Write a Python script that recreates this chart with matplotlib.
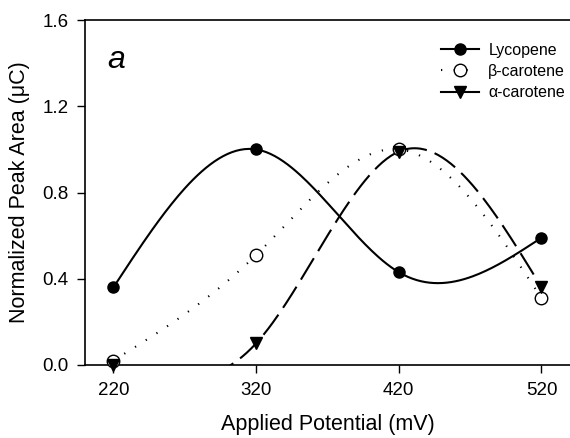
import numpy as np
import matplotlib
matplotlib.use('Agg')
import matplotlib.pyplot as plt

plt.rcParams['font.family'] = ['Liberation Sans', 'DejaVu Sans']

potential = [220, 320, 420, 520]
lycopene = [0.36, 1.00, 0.43, 0.59]
b_carotene = [0.02, 0.51, 1.00, 0.31]
a_carotene = [0.00, 0.10, 0.99, 0.36]


def natural_spline(x, y, n=200):
    # natural cubic spline through the measured points (smooth line only)
    x = np.asarray(x, float)
    y = np.asarray(y, float)
    k = len(x)
    h = np.diff(x)
    A = np.zeros((k, k))
    r = np.zeros(k)
    A[0, 0] = A[-1, -1] = 1
    for i in range(1, k - 1):
        A[i, i - 1] = h[i - 1]
        A[i, i] = 2 * (h[i - 1] + h[i])
        A[i, i + 1] = h[i]
        r[i] = 6 * ((y[i + 1] - y[i]) / h[i] - (y[i] - y[i - 1]) / h[i - 1])
    M = np.linalg.solve(A, r)
    xs = np.linspace(x[0], x[-1], n)
    ys = np.empty_like(xs)
    for j, t in enumerate(xs):
        i = min(np.searchsorted(x, t, side='right') - 1, k - 2)
        a = x[i + 1] - t
        b = t - x[i]
        ys[j] = (M[i] * a**3 + M[i + 1] * b**3) / (6 * h[i]) \
            + (y[i] / h[i] - M[i] * h[i] / 6) * a \
            + (y[i + 1] / h[i] - M[i + 1] * h[i] / 6) * b
    return xs, ys


fig = plt.figure(figsize=(5.7, 4.38), dpi=100)
ax = fig.add_axes([0.149, 0.167, 0.851, 0.787])

dots = (0, (0.6, 5.5))
dashes = (0, (12, 4))

xs, ys = natural_spline(potential, lycopene)
ax.plot(xs, ys, color='black', lw=1.5)
ax.plot(potential, lycopene, 'o', color='black', ms=8, clip_on=False,
        zorder=5)

xs, ys = natural_spline(potential, b_carotene)
ax.plot(xs, ys, color='black', lw=1.5, linestyle=dots)
ax.plot(potential, b_carotene, 'o', mfc='white', mec='black', ms=9,
        mew=1, clip_on=False, zorder=4)

xs, ys = natural_spline(potential, a_carotene)
ax.plot(xs, ys, color='black', lw=1.5, linestyle=dashes)
ax.plot(potential, a_carotene, 'v', color='black', ms=8, clip_on=False,
        zorder=6)

# legend proxies
h1, = ax.plot([], [], '-o', color='black', ms=8, lw=1.5)
h2, = ax.plot([], [], 'o', mfc='white', mec='black', ms=9, linestyle=dots,
              color='black', lw=1.5)
h3, = ax.plot([], [], '-v', color='black', ms=8, lw=1.5)
ax.legend([h1, h2, h3], ['Lycopene', '\u03b2-carotene', '\u03b1-carotene'],
          loc='upper right', bbox_to_anchor=(0.99, 0.935), frameon=False,
          fontsize=11.5, handlelength=2.4, borderaxespad=0, borderpad=0,
          labelspacing=0.4, handletextpad=0.55)

ax.set_xlim(200, 540)
ax.set_ylim(0, 1.6)
ax.set_xticks(potential)
ax.set_yticks([0.0, 0.4, 0.8, 1.2, 1.6])
ax.set_yticklabels(['0.0', '0.4', '0.8', '1.2', '1.6'])
ax.tick_params(direction='out', length=6, width=1, labelsize=13.5, pad=6)
ax.spines['right'].set_visible(False)
for s in ['left', 'bottom', 'top']:
    ax.spines[s].set_linewidth(1.2)

ax.set_xlabel('Applied Potential (mV)', fontsize=15.5, labelpad=11)
ax.set_ylabel('Normalized Peak Area (\u03bcC)', fontsize=15.5, labelpad=9)
ax.text(0.047, 0.86, 'a', transform=ax.transAxes, fontsize=23,
        style='italic')

fig.savefig('out.png', dpi=100)
